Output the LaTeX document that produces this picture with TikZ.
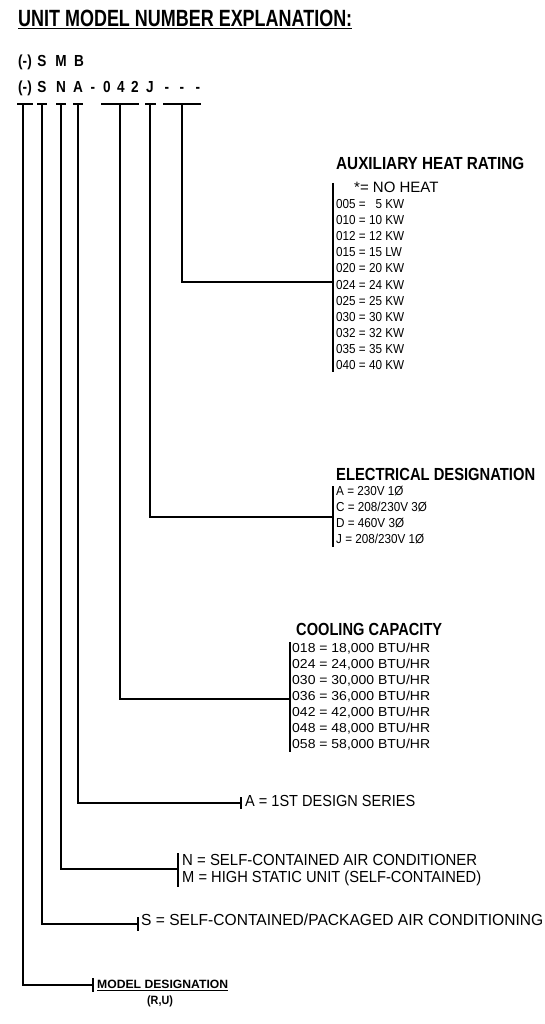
\documentclass[tikz,border=0pt]{standalone}
\usepackage{fontspec}
\usepackage{graphicx}
\setmainfont{Liberation Sans}
\newcommand\fitw[2]{\resizebox{#1}{\height}{#2}}
\newcommand\sxs[2]{\scalebox{#1}[1]{#2}}
\begin{document}
\begin{tikzpicture}[x=1pt,y=-1pt,
  txt/.style={inner sep=0pt, anchor=west, text height=0.716em, text depth=0pt},
  codech/.style={inner sep=0pt, anchor=center, text height=0.716em, text depth=0pt, font=\fontsize{16}{16}\selectfont\bfseries},
  headf/.style={txt, font=\fontsize{17.5}{17.5}\selectfont\bfseries},
  listf/.style={txt, font=\fontsize{13}{13}\selectfont},
  bigf/.style={txt, font=\fontsize{16}{16}\selectfont},
  ln/.style={line width=1.2pt},
  barln/.style={line width=1.8pt},
  tick/.style={line width=1.1pt}]
\useasboundingbox (0,0) rectangle (544,1024);
% title
\node[txt, font=\fontsize{23.5}{23.5}\selectfont\bfseries] (title) at (18,23) {\fitw{334pt}{\underline{UNIT MODEL NUMBER EXPLANATION:}}};
% code rows
\foreach \t/\x [count=\i] in {{(-)}/25, S/42, M/61, B/79}
  \node[codech] (ra\i) at (\x,63) {\sxs{0.85}{\t}};
\foreach \t/\x [count=\i] in {{(-)}/25, S/42, N/61, A/78, -/93, 0/107, 4/121, 2/135, J/150, -/167, -/182, -/198}
  \node[codech] (rb\i) at (\x,89) {\sxs{0.85}{\t}};
% bars under code
\foreach \l/\r/\n in {17/33/1, 37/47/2, 56/66/3, 73/83/4, 101/139/5, 145/156/6, 163/201/7}
  \draw[barln] (\l,104) -- (\r,104);
% top coordinates of verticals
\coordinate (t1) at (23,104);
\coordinate (t2) at (42,104);
\coordinate (t3) at (61,104);
\coordinate (t4) at (78,104);
\coordinate (t5) at (120,104);
\coordinate (t6) at (150,104);
\coordinate (t7) at (182,104);
% end coordinates
\coordinate (e1) at (93,985);
\coordinate (e2) at (138,924);
\coordinate (e3) at (178,869);
\coordinate (e4) at (241,803);
\coordinate (e5) at (290,699);
\coordinate (e6) at (333,517);
\coordinate (e7) at (333,282);
\foreach \i in {1,...,7} \draw[ln] (t\i) |- (e\i);
% brackets
\draw[tick] (333,183) -- (333,372);
\draw[tick] (333,486) -- (333,547);
\draw[tick] (290,642) -- (290,752);
\draw[tick] (241,797) -- (241,809);
\draw[tick] (178,853) -- (178,887);
\draw[tick] (138,917) -- (138,931);
\draw[tick] (93,978) -- (93,992);
% auxiliary heat rating
\node[headf] (auxh) at (336,166) {\fitw{188pt}{AUXILIARY HEAT RATING}};
\node[txt, font=\fontsize{15}{15}\selectfont] (aux0) at (354,189) {\sxs{1.0}{*= NO HEAT}};
\foreach \t [count=\i] in {005 = \phantom{1}5 KW, 010 = 10 KW, 012 = 12 KW, 015 = 15 LW, 020 = 20 KW, 024 = 24 KW, 025 = 25 KW, 030 = 30 KW, 032 = 32 KW, 035 = 35 KW, 040 = 40 KW}
  \node[listf] (aux\i) at (336,{205+16.1*(\i-1)}) {\sxs{0.9}{\t}};
% electrical designation
\node[headf] (elh) at (336,477) {\fitw{199pt}{ELECTRICAL DESIGNATION}};
\foreach \t [count=\i] in {A = 230V 1Ø, C = 208/230V 3Ø, D = 460V 3Ø, J = 208/230V 1Ø}
  \node[listf] (el\i) at (336,{492+16*(\i-1)}) {\sxs{0.9}{\t}};
% cooling capacity
\node[headf] (coh) at (296,632) {\fitw{146pt}{COOLING CAPACITY}};
\foreach \t [count=\i] in {018 = 18{,}000 BTU/HR, 024 = 24{,}000 BTU/HR, 030 = 30{,}000 BTU/HR, 036 = 36{,}000 BTU/HR, 042 = 42{,}000 BTU/HR, 048 = 48{,}000 BTU/HR, 058 = 58{,}000 BTU/HR}
  \node[listf] (co\i) at (292,{649+16*(\i-1)}) {\fitw{138pt}{\t}};
% lower labels
\node[bigf] (des) at (245,803) {\fitw{170pt}{A = 1ST DESIGN SERIES}};
\node[bigf] (nn) at (182,862) {\fitw{295pt}{N = SELF-CONTAINED AIR CONDITIONER}};
\node[bigf] (mm) at (182,879) {\fitw{299pt}{M = HIGH STATIC UNIT (SELF-CONTAINED)}};
\node[bigf] (ss) at (141,922) {\fitw{402pt}{S = SELF-CONTAINED/PACKAGED AIR CONDITIONING}};
\node[txt, font=\fontsize{12}{12}\selectfont\bfseries] (md) at (97,985) {\fitw{131pt}{\underline{MODEL DESIGNATION}}};
\node[inner sep=0pt, anchor=center, text height=0.716em, text depth=0pt, font=\fontsize{12}{12}\selectfont\bfseries] (ru) at (160,1001) {\sxs{0.9}{(R,U)}};
\end{tikzpicture}
\end{document}
